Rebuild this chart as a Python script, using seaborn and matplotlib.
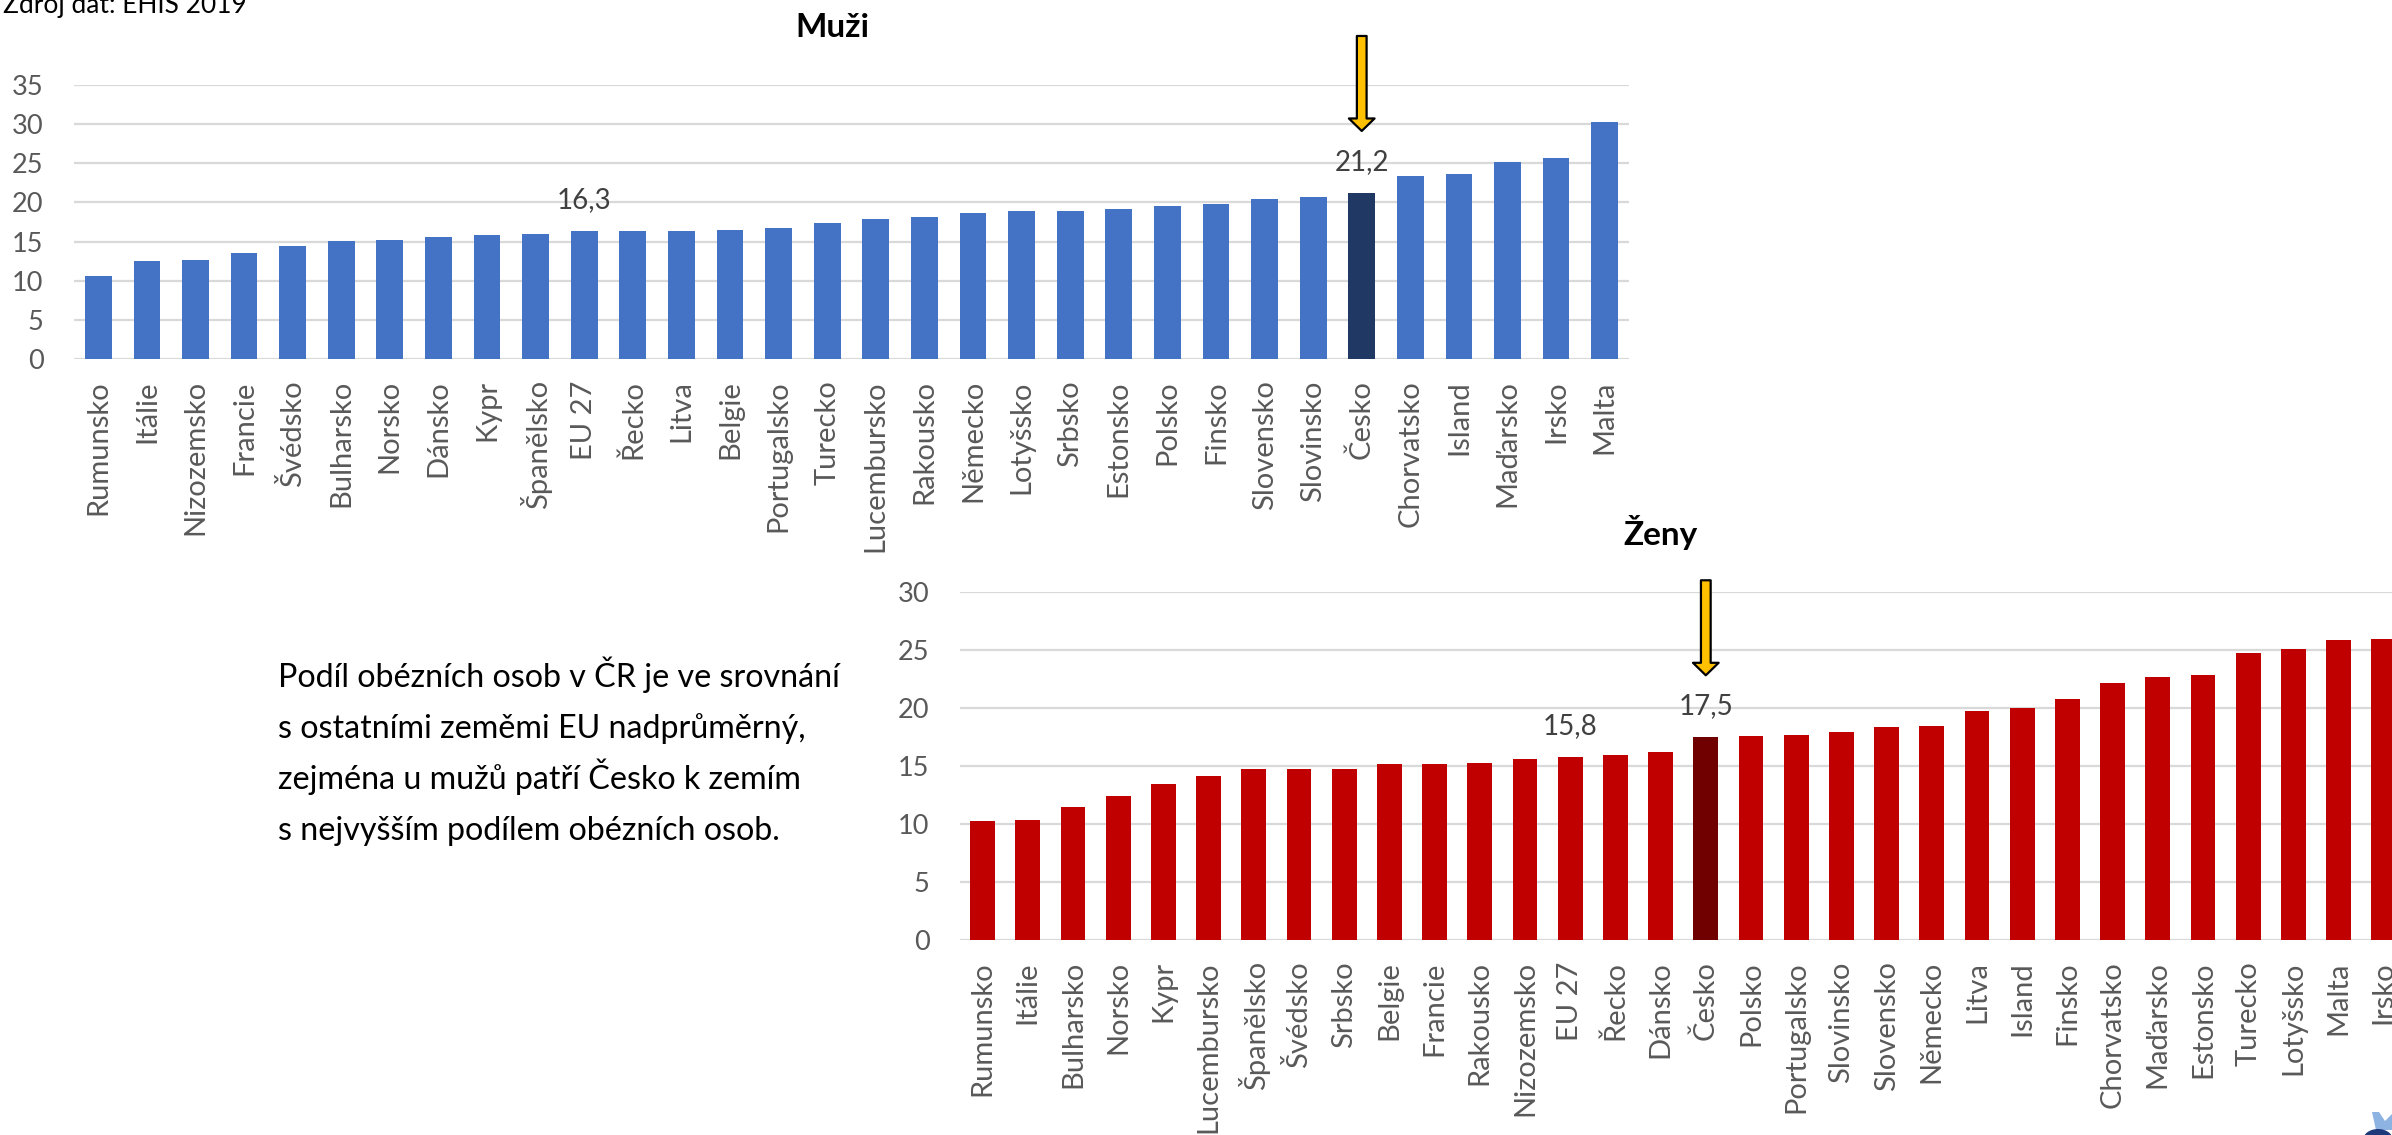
import matplotlib
matplotlib.use('Agg')
import matplotlib.pyplot as plt
import seaborn as sns
import pandas as pd
from matplotlib.patches import Polygon, Ellipse

# ---------------- data ----------------
men_countries = ['Rumunsko', 'Itálie', 'Nizozemsko', 'Francie', 'Švédsko', 'Bulharsko', 'Norsko',
                 'Dánsko', 'Kypr', 'Španělsko', 'EU 27', 'Řecko', 'Litva', 'Belgie', 'Portugalsko',
                 'Turecko', 'Lucembursko', 'Rakousko', 'Německo', 'Lotyšsko', 'Srbsko', 'Estonsko',
                 'Polsko', 'Finsko', 'Slovensko', 'Slovinsko', 'Česko', 'Chorvatsko', 'Island',
                 'Maďarsko', 'Irsko', 'Malta']
men_values = [10.6, 12.5, 12.6, 13.6, 14.5, 15.1, 15.2, 15.6, 15.8, 16.0, 16.3, 16.4, 16.4, 16.5,
              16.7, 17.4, 17.9, 18.2, 18.6, 18.9, 18.9, 19.1, 19.5, 19.8, 20.4, 20.7, 21.2, 23.3,
              23.6, 25.1, 25.6, 30.2]

women_countries = ['Rumunsko', 'Itálie', 'Bulharsko', 'Norsko', 'Kypr', 'Lucembursko', 'Španělsko',
                   'Švédsko', 'Srbsko', 'Belgie', 'Francie', 'Rakousko', 'Nizozemsko', 'EU 27',
                   'Řecko', 'Dánsko', 'Česko', 'Polsko', 'Portugalsko', 'Slovinsko', 'Slovensko',
                   'Německo', 'Litva', 'Island', 'Finsko', 'Chorvatsko', 'Maďarsko', 'Estonsko',
                   'Turecko', 'Lotyšsko', 'Malta', 'Irsko']
women_values = [10.3, 10.4, 11.5, 12.4, 13.5, 14.2, 14.8, 14.8, 14.8, 15.2, 15.2, 15.3, 15.6, 15.8,
                16.0, 16.2, 17.5, 17.6, 17.7, 18.0, 18.4, 18.5, 19.8, 20.0, 20.8, 22.2, 22.7, 22.9,
                24.8, 25.1, 25.9, 26.0]

men_yticks = [0, 5, 10, 15, 20, 25, 30, 35]
women_yticks = [0, 5, 10, 15, 20, 25, 30]

highlight = 'Česko'
labelled = ['EU 27', 'Česko']

title_men = 'Muži'
title_women = 'Ženy'
source_text = 'Zdroj dat: EHIS 2019'
paragraph = ['Podíl obézních osob v ČR je ve srovnání',
             's ostatními zeměmi EU nadprůměrný,',
             'zejména u mužů patří Česko k zemím',
             's nejvyšším podílem obézních osob.']

# ---------------- style ----------------
sns.set_theme(style='white')
plt.rcParams['font.family'] = ['Lato', 'DejaVu Sans']

W, H = 2392, 1135
fig = plt.figure(figsize=(W / 100, H / 100), dpi=100)
fig.patch.set_facecolor('white')


def px_axes(left, right, top, bottom):
    return fig.add_axes([left / W, 1 - bottom / H, (right - left) / W, (bottom - top) / H])


ax1 = px_axes(74, 1629, 84.7, 359.3)
ax2 = px_axes(960, 960 + 32 * 45.2, 592.3, 940.3)


def draw(ax, cats, vals, yticks, base, dark):
    df = pd.DataFrame({'country': cats, 'value': vals})
    palette = {c: (dark if c == highlight else base) for c in cats}
    sns.barplot(data=df, x='country', y='value', hue='country', palette=palette,
                width=0.55, legend=False, ax=ax, saturation=1, edgecolor='none')
    ax.set_xlim(-0.5, len(cats) - 0.5)
    ax.set_ylim(yticks[0], yticks[-1])
    ax.set_yticks(yticks)
    ax.yaxis.grid(True, color='#D9D9D9', lw=1.6)
    ax.xaxis.grid(False)
    ax.set_axisbelow(True)
    for s in ax.spines.values():
        s.set_visible(False)
    ax.set_xlabel('')
    ax.set_ylabel('')
    ax.set_facecolor('none')
    ax.tick_params(axis='x', length=0, pad=15, labelrotation=90, labelsize=21, colors='#595959')
    ax.tick_params(axis='y', length=0, pad=22, labelsize=19.5, colors='#595959')
    for c, v in zip(cats, vals):
        if c in labelled:
            ax.annotate(f'{v:.1f}'.replace('.', ','), xy=(cats.index(c), v), xytext=(0, 31),
                        textcoords='offset pixels', ha='center', va='center',
                        fontsize=20, color='#404040', annotation_clip=False)
    i = cats.index(highlight)
    v = vals[i]
    ax.annotate('', xy=(i, v), xycoords='data', xytext=(0, 157), textcoords='offset pixels',
                annotation_clip=False,
                arrowprops=dict(arrowstyle='simple,head_length=0.9,head_width=1.85,tail_width=0.7',
                                mutation_scale=10, shrinkA=0, shrinkB=62 * 0.72,
                                fc='#FFC000', ec='black', lw=1.6))


draw(ax1, men_countries, men_values, men_yticks, '#4472C4', '#203864')
draw(ax2, women_countries, women_values, women_yticks, '#C00000', '#700000')

# titles
fig.text(832 / W, 1 - 37 / H, title_men, fontsize=24, fontweight='bold', ha='center',
         va='baseline', color='black')
fig.text(1660 / W, 1 - 545 / H, title_women, fontsize=24, fontweight='bold', ha='center',
         va='baseline', color='black')

# source (cut at top of slide)
fig.text(3 / W, 1 - 12.7 / H, source_text, fontsize=19, ha='left', va='baseline', color='black')

# paragraph
txts = []
for k, line in enumerate(paragraph):
    txts.append(fig.text(278 / W, 1 - (687 + 51 * k) / H, line, fontsize=26,
                         ha='left', va='baseline', color='black'))
fig.canvas.draw()
r = fig.canvas.get_renderer()
w0 = txts[0].get_window_extent(r).width
for t in txts:
    t.set_fontsize(26 * 562 / w0)

# tiny logo fragment at bottom-right corner
fig.patches.append(Polygon([(x / W, 1 - y / H) for x, y in
                            [(2372, 1112), (2379, 1112), (2385, 1121), (2392, 1114),
                             (2392, 1130), (2376, 1130)]],
                           closed=True, transform=fig.transFigure,
                           facecolor='#8DB3E2', edgecolor='none'))
fig.patches.append(Ellipse((2378 / W, 1 - 1140 / H), 30 / W, 22 / H, transform=fig.transFigure,
                           facecolor='#1F3A7A', edgecolor='none'))

fig.savefig('out.png', dpi=100, facecolor='white')
